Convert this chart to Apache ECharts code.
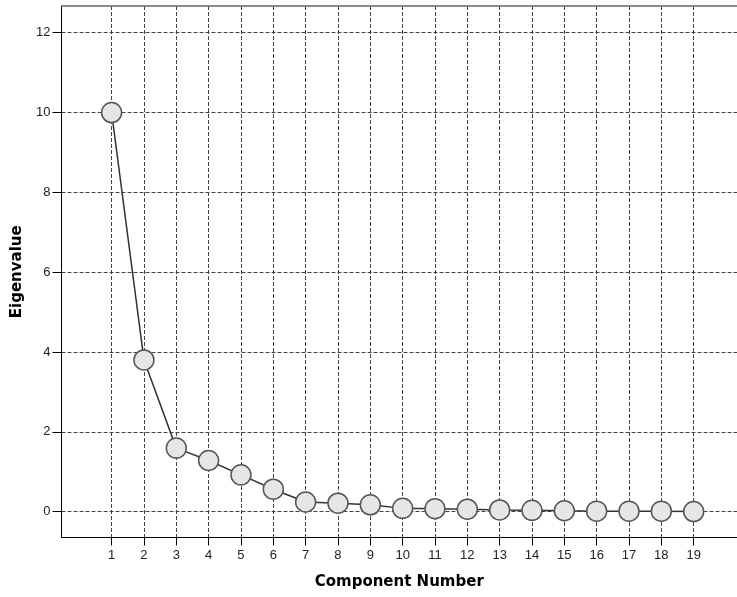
<!DOCTYPE html>
<html>
<head>
<meta charset="utf-8">
<script src="https://cdn.jsdelivr.net/npm/echarts@6/dist/echarts.min.js"></script>
<style>
  html, body { margin: 0; padding: 0; background: #fff; }
  #chart { width: 737px; height: 597px; }
</style>
</head>
<body>
<div id="chart"></div>
<script>
// scree plot data
const components = [1, 2, 3, 4, 5, 6, 7, 8, 9, 10, 11, 12, 13, 14, 15, 16, 17, 18, 19]
const eigenvalues = [10.0, 3.8, 1.59, 1.28, 0.92, 0.56, 0.24, 0.21, 0.17, 0.08, 0.07, 0.06, 0.04, 0.03, 0.02, 0.01, 0.01, 0.01, 0.0]
const yTicks = [0, 2, 4, 6, 8, 10, 12]

const myChart = echarts.init(document.getElementById('chart'))

const gridLine = {
  show: true,
  lineStyle: { color: '#444', type: [4, 2], width: 1 }
}
const font = 'Liberation Sans, Arial, sans-serif'
const titleFont = 'DejaVu Sans, Verdana, sans-serif'

const option = {
  animation: false,
  grid: { left: 61.5, top: 6, right: 0, bottom: 59.5 },
  xAxis: [
    {
      type: 'value',
      min: -0.55,
      max: 20.34,
      name: 'Component Number',
      nameLocation: 'middle',
      nameGap: 37,
      nameTextStyle: { fontFamily: titleFont, fontWeight: 'bold', fontSize: 15, color: '#000' },
      axisLine: { show: true, onZero: false, lineStyle: { color: '#000', width: 1 } },
      axisTick: { show: true, inside: false, length: 8, lineStyle: { color: '#000' }, customValues: components },
      axisLabel: { customValues: components, fontFamily: font, fontSize: 13, color: '#222', margin: 11 },
      splitLine: gridLine
    },
    {
      type: 'value',
      position: 'top',
      min: -0.55,
      max: 20.34,
      axisLine: { show: true, onZero: false, lineStyle: { color: '#666', width: 1.5 } },
      axisTick: { show: false },
      axisLabel: { show: false },
      splitLine: { show: false }
    }
  ],
  yAxis: {
    type: 'value',
    min: -0.65,
    max: 12.67,
    name: 'Eigenvalue',
    nameLocation: 'middle',
    nameGap: 37,
    nameTextStyle: { fontFamily: titleFont, fontWeight: 'bold', fontSize: 15, color: '#000' },
    axisLine: { show: true, onZero: false, lineStyle: { color: '#000', width: 1 } },
    axisTick: { show: true, inside: false, length: 9, lineStyle: { color: '#000' }, customValues: yTicks },
    axisLabel: { customValues: yTicks, fontFamily: font, fontSize: 13, color: '#222', margin: 11 },
    splitLine: gridLine
  },
  series: [
    {
      type: 'line',
      data: components.map((c, i) => [c, eigenvalues[i]]),
      symbol: 'circle',
      symbolSize: 20,
      lineStyle: { color: '#333', width: 1.5 },
      itemStyle: { color: '#e6e6e6', borderColor: '#555', borderWidth: 1.5 },
      z: 5
    }
  ]
}

myChart.setOption(option)
</script>
</body>
</html>
